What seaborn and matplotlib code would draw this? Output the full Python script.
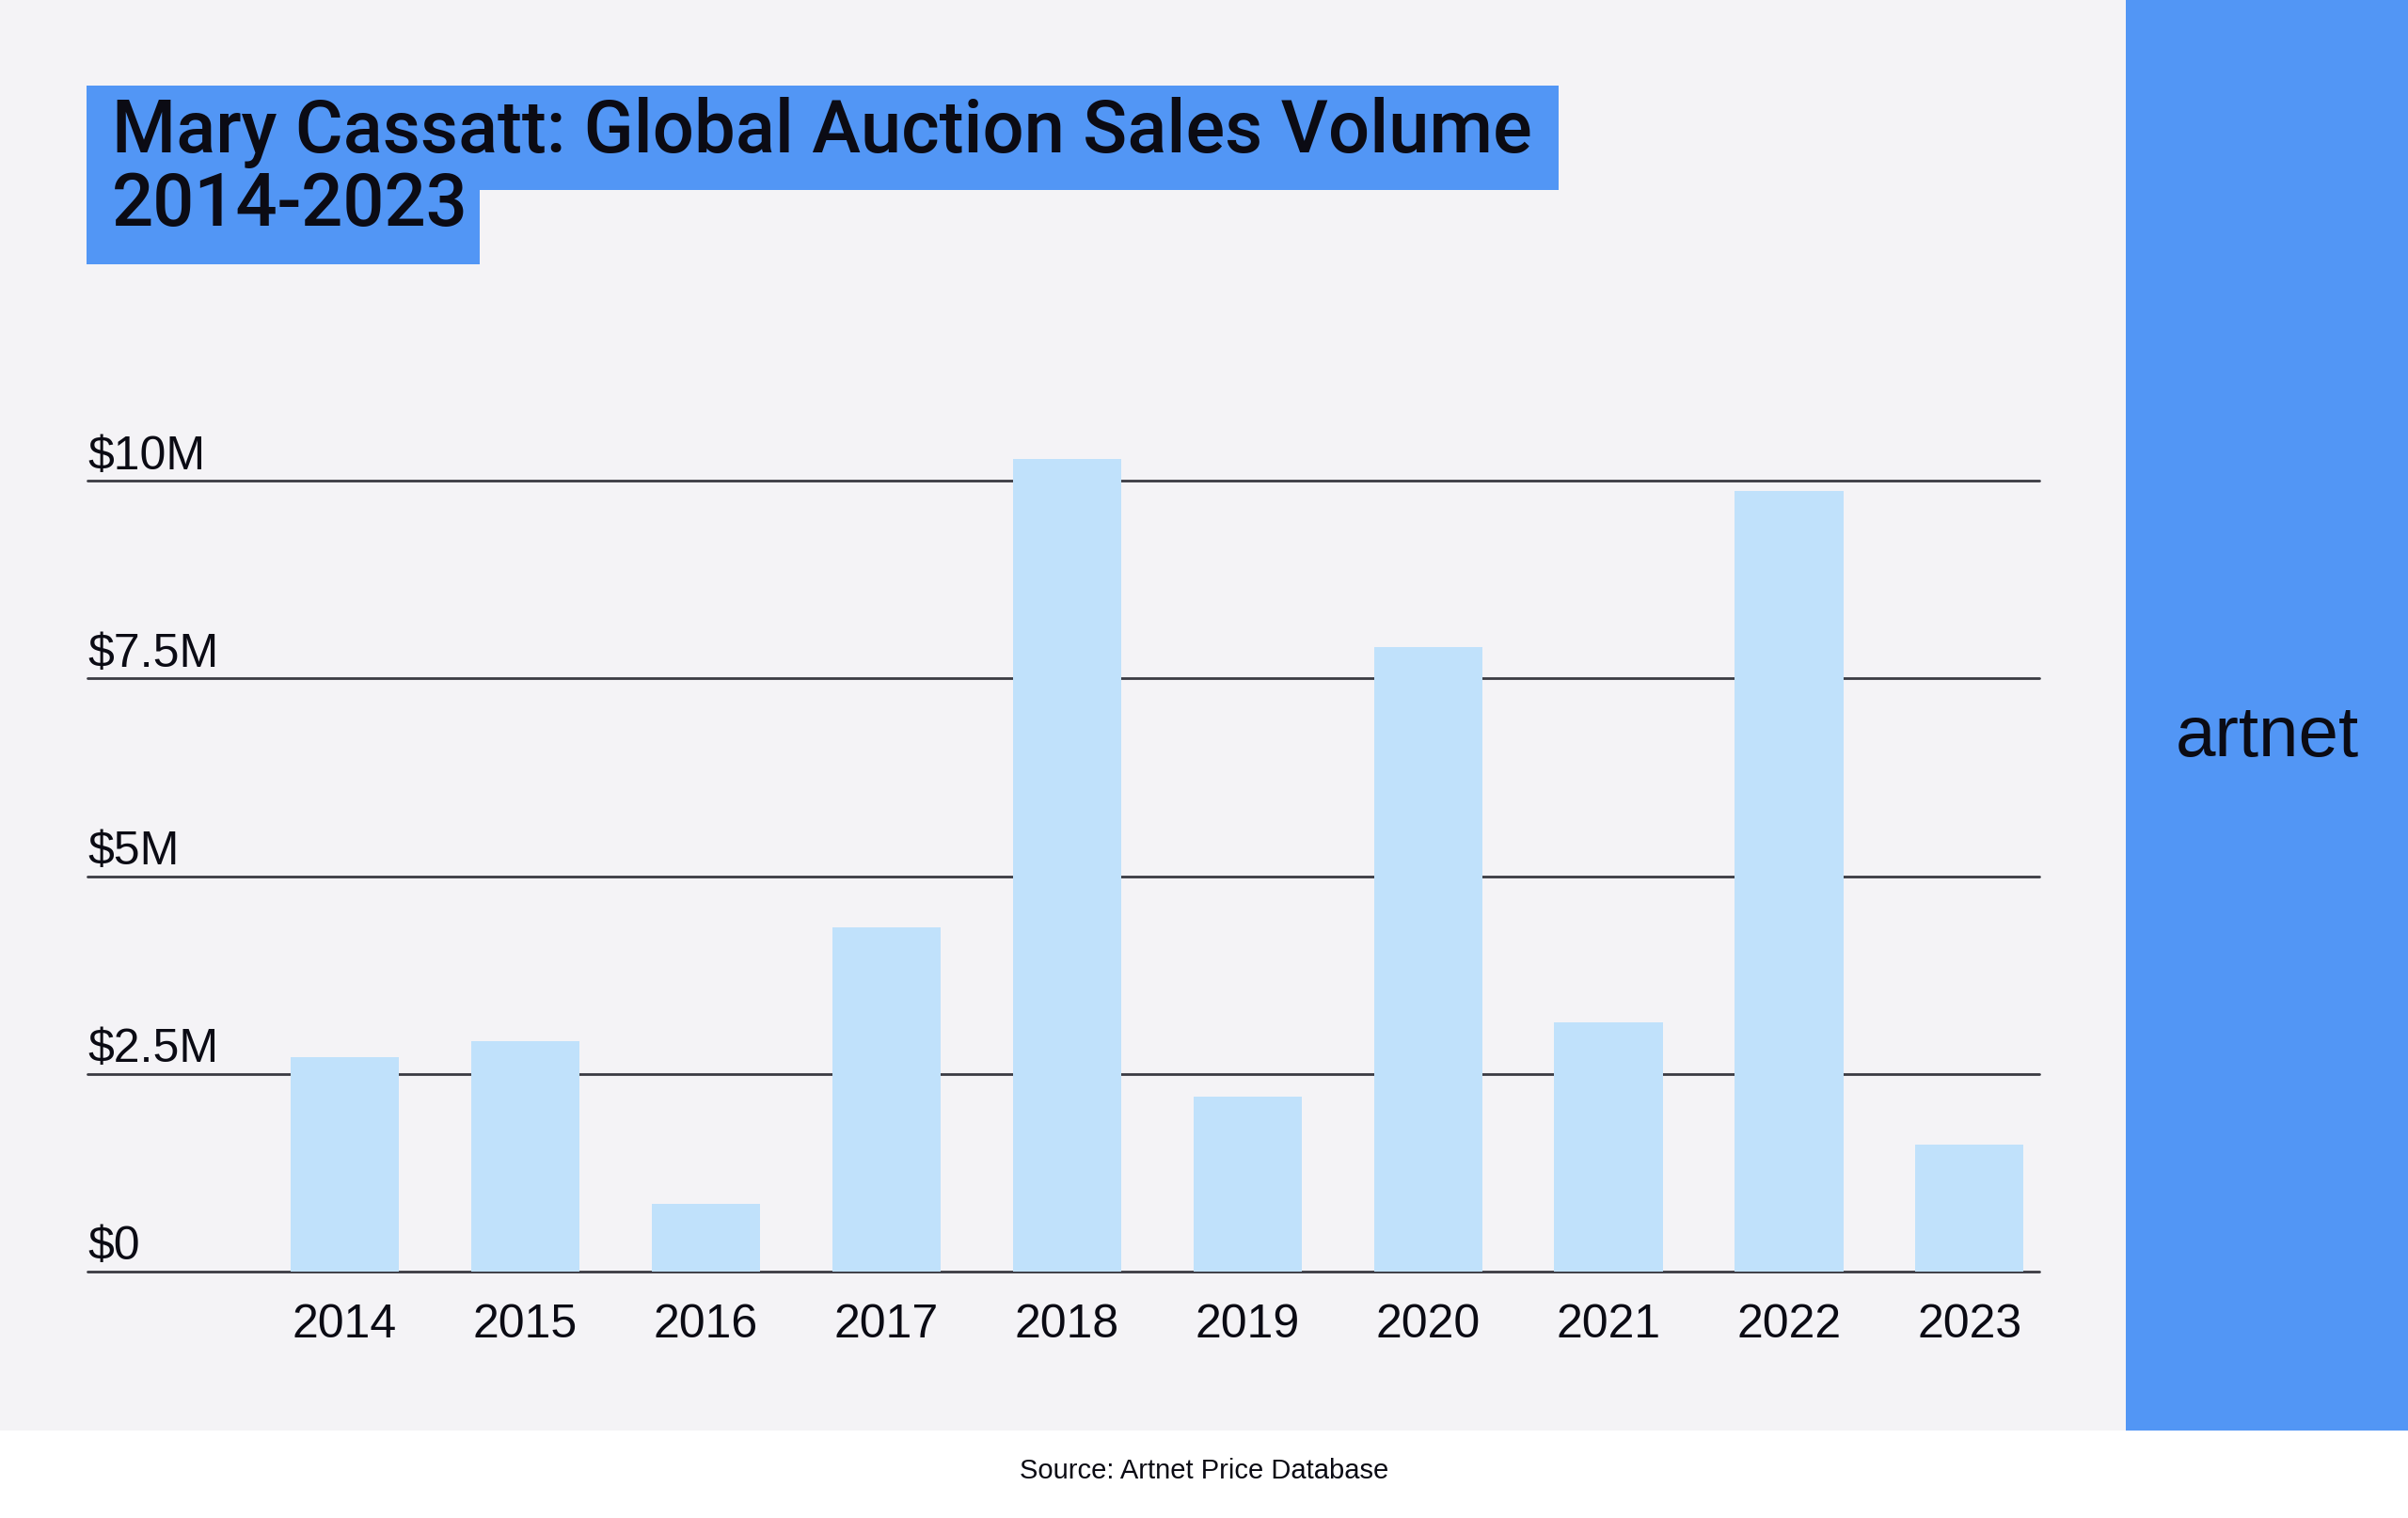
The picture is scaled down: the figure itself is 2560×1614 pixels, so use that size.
"""Mary Cassatt auction sales volume bar chart, artnet style."""

import matplotlib

matplotlib.use("Agg")
import matplotlib.pyplot as plt
import pandas as pd
import seaborn as sns
from matplotlib.patches import Rectangle

# --- data (USD millions) ---
years = ["2014", "2015", "2016", "2017", "2018", "2019", "2020", "2021", "2022", "2023"]
sales_musd = [2.71, 2.91, 0.85, 4.35, 10.28, 2.21, 7.90, 3.15, 9.87, 1.60]
y_ticks = [0, 2.5, 5, 7.5, 10]
y_tick_labels = ["$0", "$2.5M", "$5M", "$7.5M", "$10M"]

title_lines = ["Mary Cassatt: Global Auction Sales Volume", "2014-2023"]
source_note = "Source: Artnet Price Database"
brand = "artnet"

BG = "#F4F3F6"
BLUE = "#5296F5"
BAR = "#C0E1FB"
INK = "#0B0B14"
GRID = "#3A3A42"

W, H = 2560, 1615


def fig_rect(x0, y0, x1, y1, color):
    """Rectangle given in pixel coords (origin top-left)."""
    return Rectangle((x0 / W, 1 - y1 / H), (x1 - x0) / W, (y1 - y0) / H,
                     transform=fig.transFigure, color=color, lw=0, zorder=0)


sns.set_theme(style="white")
plt.rcParams["font.family"] = ["Liberation Sans", "DejaVu Sans"]

fig = plt.figure(figsize=(W / 100, H / 100), dpi=100, facecolor="white")

# background panels
fig.add_artist(fig_rect(0, 0, 2260, 1522, BG))
fig.add_artist(fig_rect(2260, 0, W, 1522, BLUE))

# title highlight boxes
fig.add_artist(fig_rect(92, 92, 1657, 203, BLUE))
fig.add_artist(fig_rect(92, 202, 510, 282, BLUE))

df = pd.DataFrame({"year": years, "sales": sales_musd})

ax = fig.add_axes([93 / W, 1 - 1352.7 / H, (2168 - 93) / W, (1352.7 - 462) / H])
ax.patch.set_alpha(0)
sns.barplot(data=df, x="year", y="sales", color=BAR, saturation=1, width=0.6,
            linewidth=0, ax=ax, zorder=2)

ax.set_xlim(-1.425, 9.386)
ax.set_ylim(0, 10.6)
ax.set_yticks(y_ticks)
ax.set_yticklabels([])
ax.tick_params(axis="y", length=0)
ax.tick_params(axis="x", length=0, pad=24, labelsize=36, labelcolor=INK)
ax.set_xlabel("")
ax.set_ylabel("")
sns.despine(ax=ax, left=True, bottom=True)

for v, lab in zip(y_ticks, y_tick_labels):
    ax.axhline(v, color=GRID, lw=2, zorder=1, clip_on=False)
    ax.annotate(lab, xy=(0, v), xycoords=("axes fraction", "data"),
                xytext=(0, 10), textcoords="offset points",
                ha="left", va="baseline", fontsize=36, color=INK)

# title, two lines on the highlight boxes
title_font = ["Roboto", "Liberation Sans", "DejaVu Sans"]
t1 = fig.text(119 / W, 1 - 161.7 / H, title_lines[0], ha="left", va="baseline",
              fontsize=52, fontweight="medium", family=title_font, color=INK)
t2 = fig.text(119 / W, 1 - 240 / H, title_lines[1], ha="left", va="baseline",
              fontsize=52, fontweight="medium", family=title_font, color=INK)

# fit title width to the reference
fig.canvas.draw()
w = t1.get_window_extent(fig.canvas.get_renderer()).width
fs = 52 * 1511 / w
t1.set_fontsize(fs)
t2.set_fontsize(fs)

fig.text(2410 / W, 1 - 804 / H, brand, ha="center", va="baseline",
         fontsize=55, color=INK)
fig.text(0.5, 1 - 1564 / H, source_note, ha="center", va="center",
         fontsize=21, color=INK)

fig.savefig("out.png", dpi=100, facecolor="white")
